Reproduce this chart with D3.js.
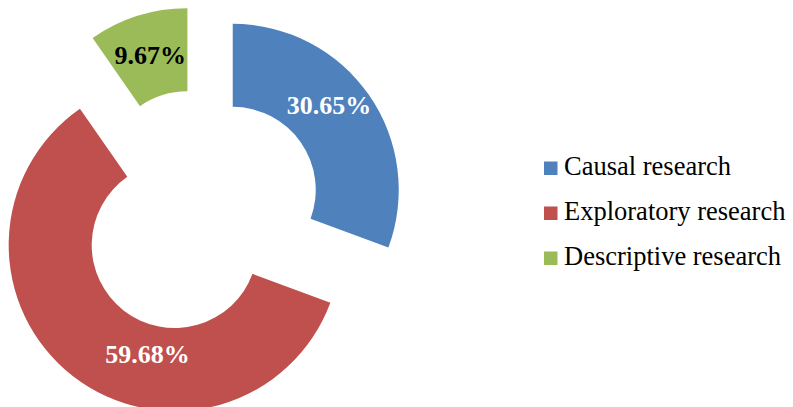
<!DOCTYPE html>
<html>
<head>
<meta charset="utf-8">
<script src="https://cdn.jsdelivr.net/npm/d3@7"></script>
<style>
  html, body { margin: 0; padding: 0; background: #fff; }
  svg { display: block; }
  text { font-family: "Times New Roman", "Liberation Serif", serif; }
</style>
</head>
<body>
<svg id="chart" width="793" height="407"></svg>
<script>
// Research types and their shares (%)
const categories = ["Causal research", "Exploratory research", "Descriptive research"];
const shares = [30.65, 59.68, 9.67];
const shareLabels = ["30.65%", "59.68%", "9.67%"];
const colors = ["#4F81BD", "#C0504D", "#9BBB59"];
const labelColors = ["#ffffff", "#ffffff", "#000000"];

// Layout
const W = 793, H = 407;
const center = { x: 199.5, y: 213 };
const outerR = 166, innerR = 83;
const explode = 40.5;
const labelNudge = [[-6, -13], [49, 11], [0, 0]];
const legend = { x: 544, y0: 175, step: 45, box: 13.5, textX: 564, fontSize: 26.5 };

const svg = d3.select("#chart");

const data = categories.map((c, i) => ({ name: c, value: shares[i], label: shareLabels[i], i }));

const pie = d3.pie().sort(null).value(d => d.value).startAngle(0).endAngle(2 * Math.PI);
const arc = d3.arc().innerRadius(innerR).outerRadius(outerR);
const labelArc = d3.arc().innerRadius((innerR + outerR) / 2).outerRadius((innerR + outerR) / 2);

const arcs = pie(data);

// Doughnut slices, each pulled out along its bisector
const slices = svg.append("g")
  .selectAll("g.slice")
  .data(arcs)
  .join("g")
  .attr("class", "slice")
  .attr("transform", d => {
    const a = (d.startAngle + d.endAngle) / 2;
    const dx = Math.sin(a) * explode, dy = -Math.cos(a) * explode;
    return `translate(${center.x + dx},${center.y + dy})`;
  });

slices.append("path")
  .attr("d", arc)
  .attr("fill", d => colors[d.data.i]);

slices.append("text")
  .attr("transform", d => {
    const [x, y] = labelArc.centroid(d);
    const n = labelNudge[d.data.i];
    return `translate(${x + n[0]},${y + n[1]})`;
  })
  .attr("text-anchor", "middle")
  .attr("dy", "0.33em")
  .attr("font-size", 26)
  .attr("font-weight", "bold")
  .attr("fill", d => labelColors[d.data.i])
  .text(d => d.data.label);

// Legend
const lg = svg.append("g")
  .selectAll("g.item")
  .data(data)
  .join("g")
  .attr("class", "item")
  .attr("transform", (d, i) => `translate(0,${legend.y0 + i * legend.step})`);

lg.append("rect")
  .attr("x", legend.x)
  .attr("y", -legend.box)
  .attr("width", legend.box)
  .attr("height", legend.box)
  .attr("fill", d => colors[d.i]);

lg.append("text")
  .attr("x", legend.textX)
  .attr("y", 0)
  .attr("font-size", legend.fontSize)
  .attr("fill", "#000")
  .text(d => d.name);
</script>
</body>
</html>
